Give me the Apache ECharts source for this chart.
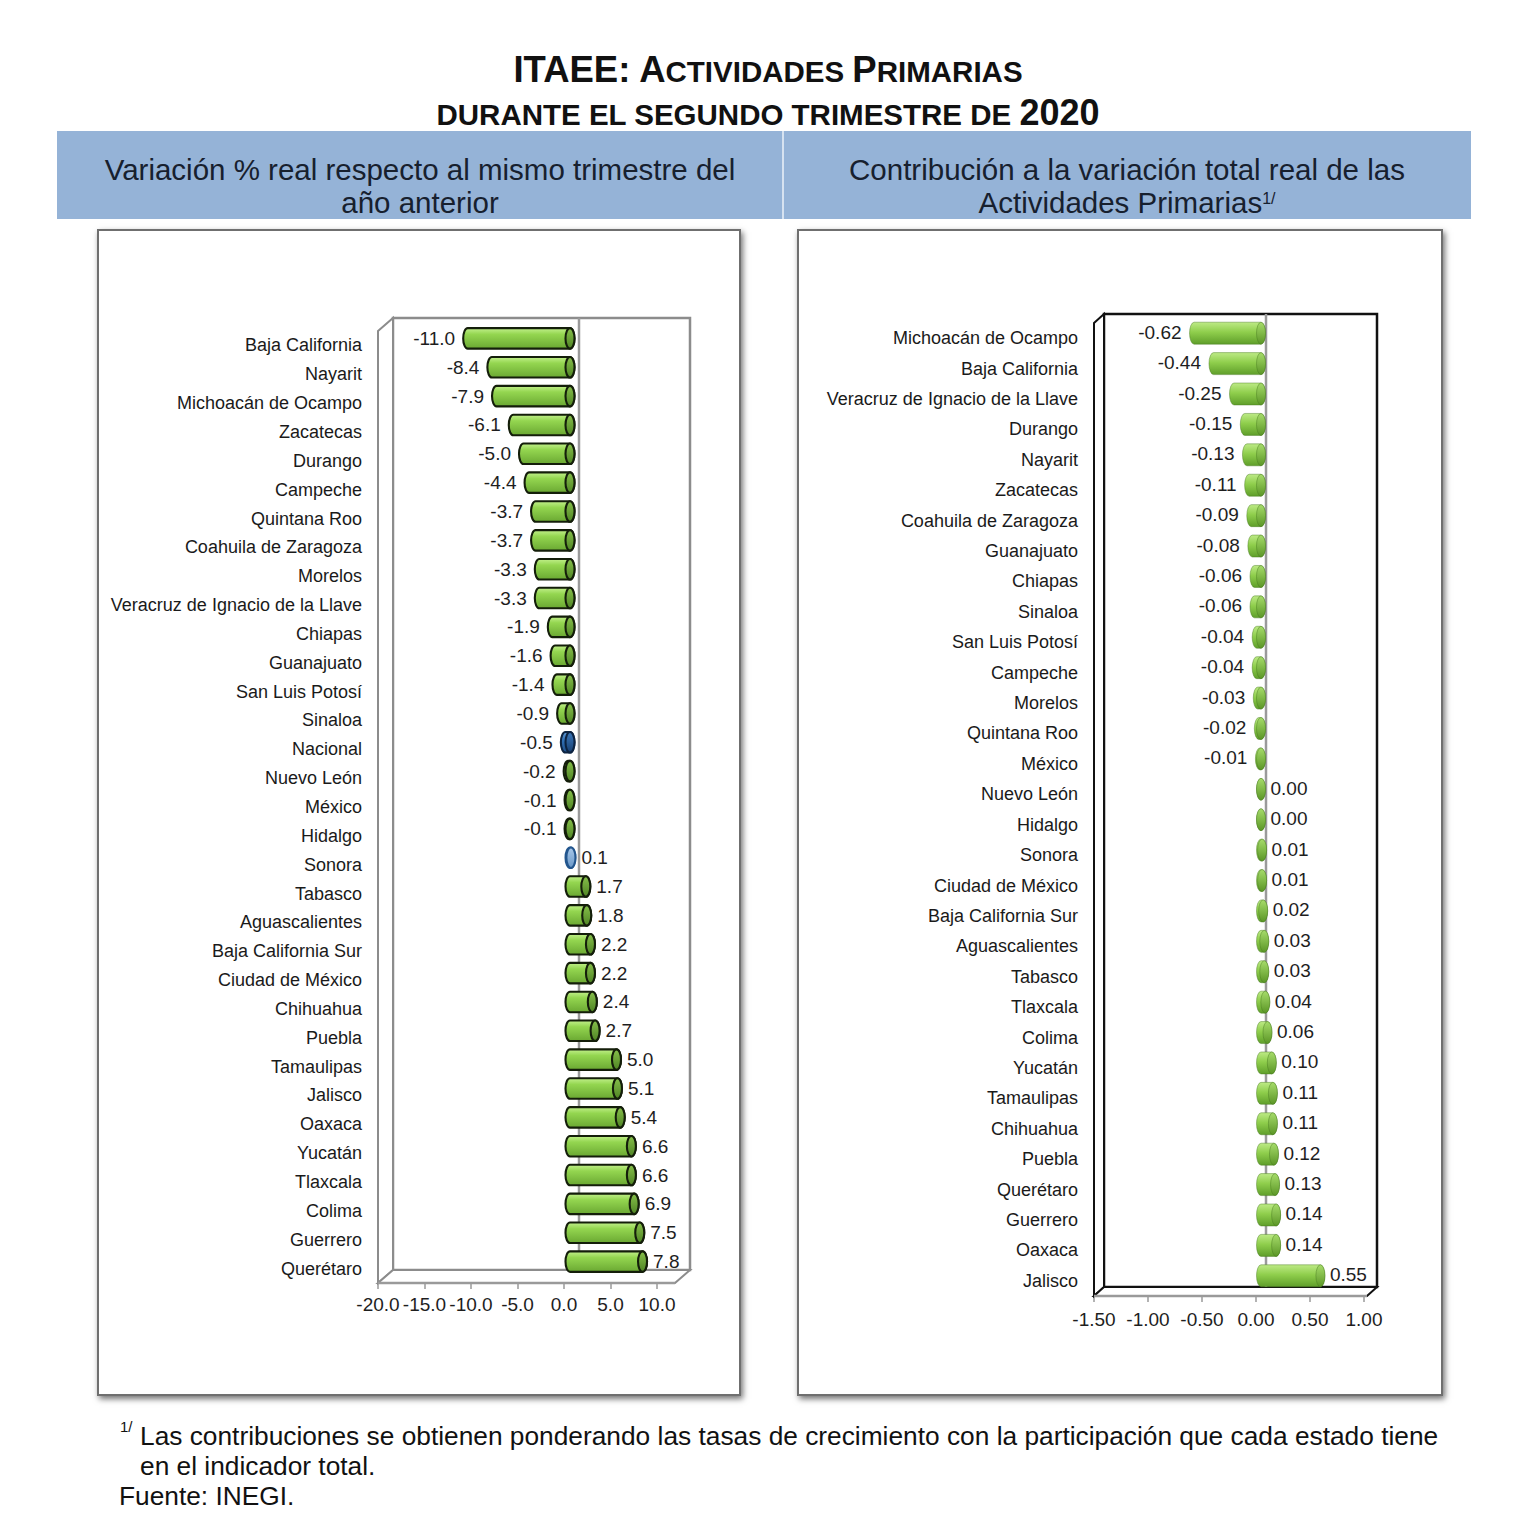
<!DOCTYPE html>
<html>
<head>
<meta charset="utf-8">
<script src="https://cdn.jsdelivr.net/npm/echarts@6/dist/echarts.min.js"></script>
<style>
  html, body { margin: 0; padding: 0; background: #fff; }
  #page { position: relative; width: 1536px; height: 1529px; font-family: "Liberation Sans", Arial, sans-serif; color: #111; overflow: hidden; }
  .abs { position: absolute; }
  .t1 { left: 0; width: 1536px; top: 48px; text-align: center; font-weight: bold; line-height: 44px; white-space: nowrap; }
  .t2 { left: 0; width: 1536px; top: 91px; text-align: center; font-weight: bold; line-height: 44px; white-space: nowrap; }
  .band { left: 57px; top: 131px; width: 1414px; height: 88px; background: #95b3d7; }
  .divider { left: 782px; top: 131px; width: 2px; height: 88px; background: #d6e2f0; }
  .hdr { top: 153px; text-align: center; font-size: 29.5px; line-height: 33px; color: #17202e; white-space: nowrap; }
  .panel { top: 229px; height: 1167px; box-sizing: border-box; border: 2px solid #6f6f6f; background: #fff; box-shadow: 2px 3px 6px rgba(0,0,0,0.55); }
  .foot { font-size: 26.3px; line-height: 30px; color: #111; white-space: nowrap; }
  #chart { position: absolute; left: 0; top: 0; width: 1536px; height: 1529px; z-index: 5; }
</style>
</head>
<body>
<div id="page">
  <div class="abs t1"><span style="font-size:36.5px">ITAEE: A</span><span style="font-size:29.5px">CTIVIDADES </span><span style="font-size:36.5px">P</span><span style="font-size:29.5px">RIMARIAS</span></div>
  <div class="abs t2"><span style="font-size:29.5px">DURANTE EL SEGUNDO TRIMESTRE DE </span><span style="font-size:36px">2020</span></div>

  <div class="abs band"></div>
  <div class="abs divider"></div>
  <div class="abs hdr" style="left:57px;width:726px;">Variación % real respecto al mismo trimestre del<br>año anterior</div>
  <div class="abs hdr" style="left:783px;width:688px;">Contribución a la variación total real de las<br>Actividades Primarias<sup style="font-size:16px;vertical-align:top;position:relative;top:-4px;">1/</sup></div>

  <div class="abs panel" style="left:97px;width:644px;"></div>
  <div class="abs panel" style="left:797px;width:646px;"></div>

  <div class="abs foot" style="left:120px;top:1418px;font-size:15px;line-height:18px;">1/</div>
  <div class="abs foot" style="left:140px;top:1421px;">Las contribuciones se obtienen ponderando las tasas de crecimiento con la participación que cada estado tiene</div>
  <div class="abs foot" style="left:140px;top:1451px;">en el indicador total.</div>
  <div class="abs foot" style="left:119px;top:1481px;">Fuente: INEGI.</div>

  <div id="chart"></div>
</div>
<script>
// ---------------- DATA ----------------
const leftCategories = ['Baja California','Nayarit','Michoacán de Ocampo','Zacatecas','Durango','Campeche','Quintana Roo','Coahuila de Zaragoza','Morelos','Veracruz de Ignacio de la Llave','Chiapas','Guanajuato','San Luis Potosí','Sinaloa','Nacional','Nuevo León','México','Hidalgo','Sonora','Tabasco','Aguascalientes','Baja California Sur','Ciudad de México','Chihuahua','Puebla','Tamaulipas','Jalisco','Oaxaca','Yucatán','Tlaxcala','Colima','Guerrero','Querétaro'];
const leftValues = [-11.0,-8.4,-7.9,-6.1,-5.0,-4.4,-3.7,-3.7,-3.3,-3.3,-1.9,-1.6,-1.4,-0.9,-0.5,-0.2,-0.1,-0.1,0.1,1.7,1.8,2.2,2.2,2.4,2.7,5.0,5.1,5.4,6.6,6.6,6.9,7.5,7.8];

const rightCategories = ['Michoacán de Ocampo','Baja California','Veracruz de Ignacio de la Llave','Durango','Nayarit','Zacatecas','Coahuila de Zaragoza','Guanajuato','Chiapas','Sinaloa','San Luis Potosí','Campeche','Morelos','Quintana Roo','México','Nuevo León','Hidalgo','Sonora','Ciudad de México','Baja California Sur','Aguascalientes','Tabasco','Tlaxcala','Colima','Yucatán','Tamaulipas','Chihuahua','Puebla','Querétaro','Guerrero','Oaxaca','Jalisco'];
const rightValues = [-0.62,-0.44,-0.25,-0.15,-0.13,-0.11,-0.09,-0.08,-0.06,-0.06,-0.04,-0.04,-0.03,-0.02,-0.01,0.00,0.00,0.01,0.01,0.02,0.03,0.03,0.04,0.06,0.10,0.11,0.11,0.12,0.13,0.14,0.14,0.55];

const leftAxis = { min: -20, max: 10, interval: 5, decimals: 1 };
const rightAxis = { min: -1.5, max: 1.0, interval: 0.5, decimals: 2 };
const blueCategories = ['Nacional'];
const lightBlueCategories = ['Sonora'];

// ---------------- STYLE ----------------
const FONT = '"Liberation Sans", Arial, sans-serif';
const grad = (stops) => new echarts.graphic.LinearGradient(0, 0, 0, 1, stops.map((c) => ({ offset: c[0], color: c[1] })));

const styles = {
  leftGreen: {
    body: () => grad([[0, '#c2f08c'], [0.3, '#94d650'], [1, '#6aa832']]),
    cap: () => grad([[0, '#86c04a'], [1, '#4f8424']]),
    stroke: '#141e0a', lw: 2.1
  },
  leftBlue: {
    body: () => grad([[0, '#5f9ad6'], [0.4, '#2f6fb4'], [1, '#1d4e88']]),
    cap: () => grad([[0, '#3b78bc'], [1, '#173f70']]),
    stroke: '#0c2341', lw: 2.1
  },
  leftLightBlue: {
    body: () => grad([[0, '#c4dcf2'], [1, '#7aa8d8']]),
    cap: () => grad([[0, '#a8c8ea'], [1, '#6a98c8']]),
    stroke: '#23568e', lw: 2
  },
  rightGreen: {
    body: () => grad([[0, '#bdea86'], [0.45, '#8fce4c'], [1, '#5f9e2a']]),
    cap: () => grad([[0, '#a6dc6a'], [1, '#5b9626']]),
    stroke: 'rgba(70,120,30,0.55)', lw: 0.8
  }
};

function makeRender(cfg) {
  return function (params, api) {
    const v = api.value(0);
    const idx = api.value(1);
    const p0 = api.coord([0, idx]);
    const p1 = api.coord([v, idx]);
    const yc = p0[1] + cfg.dy;
    const xa = Math.min(p0[0], p1[0]) + cfg.dx;
    const xb = Math.max(p0[0], p1[0]) + cfg.dx;
    const ry = cfg.h / 2, rx = cfg.rx;
    const top = yc - ry, bot = yc + ry;
    const st = cfg.styleFor(params.dataIndex);
    const body = `M${xa} ${top} L${xb} ${top} A${rx} ${ry} 0 0 1 ${xb} ${bot} L${xa} ${bot} A${rx} ${ry} 0 0 1 ${xa} ${top} Z`;
    const cap = `M${xb} ${top} A${rx} ${ry} 0 0 1 ${xb} ${bot} A${rx} ${ry} 0 0 1 ${xb} ${top} Z`;
    const neg = v < 0;
    const txt = v.toFixed(cfg.decimals);
    return {
      type: 'group',
      children: [
        { type: 'path', shape: { pathData: body }, style: { fill: st.body(), stroke: st.stroke, lineWidth: st.lw } },
        { type: 'path', shape: { pathData: cap }, style: { fill: st.cap(), stroke: st.stroke, lineWidth: st.lw } },
        {
          type: 'text',
          style: {
            text: txt,
            x: neg ? xa - rx - cfg.gapNeg : xb + rx + cfg.gapPos,
            y: yc + cfg.labelDy,
            align: neg ? 'right' : 'left',
            verticalAlign: 'middle',
            fill: '#1e1e1e',
            fontSize: 19,
            fontFamily: FONT
          }
        }
      ]
    };
  };
}

const G0 = { left: 378, top: 331, width: 279, height: 952 };
const G1 = { left: 1094, top: 323, width: 270, height: 973 };

const chart = echarts.init(document.getElementById('chart'), null, { renderer: 'svg' });

const catAxisLabel = { show: true, interval: 0, fontSize: 18, color: '#1a1a1a', fontFamily: FONT, margin: 16 };

const option = {
  backgroundColor: 'transparent',
  animation: false,
  grid: [
    Object.assign({ outerBoundsMode: 'none', containLabel: false }, G0),
    Object.assign({ outerBoundsMode: 'none', containLabel: false }, G1)
  ],
  xAxis: [
    {
      type: 'value', gridIndex: 0, min: leftAxis.min, max: leftAxis.max, interval: leftAxis.interval,
      axisLine: { show: false },
      axisTick: { show: true, length: 6, lineStyle: { color: '#9a9a9a', width: 1.5 } },
      splitLine: { show: false },
      axisLabel: { fontSize: 19, color: '#1e1e1e', fontFamily: FONT, margin: 12, formatter: v => v.toFixed(leftAxis.decimals) }
    },
    {
      type: 'value', gridIndex: 1, min: rightAxis.min, max: rightAxis.max, interval: rightAxis.interval,
      axisLine: { show: false },
      axisTick: { show: true, length: 6, lineStyle: { color: '#9a9a9a', width: 1.5 } },
      splitLine: { show: false },
      axisLabel: { fontSize: 19, color: '#1e1e1e', fontFamily: FONT, margin: 14, formatter: v => v.toFixed(rightAxis.decimals) }
    }
  ],
  yAxis: [
    {
      type: 'category', gridIndex: 0, data: leftCategories, inverse: true, position: 'left',
      axisLine: { show: false, onZero: false }, axisTick: { show: false }, splitLine: { show: false },
      axisLabel: catAxisLabel
    },
    {
      type: 'category', gridIndex: 0, data: leftCategories, inverse: true, position: 'left',
      axisLine: { show: true, onZero: true, lineStyle: { color: 'rgba(0,0,0,0)' } },
      axisTick: { show: true, length: 6, lineStyle: { color: '#9a9a9a', width: 1.5 } },
      axisLabel: { show: false }, splitLine: { show: false }
    },
    {
      type: 'category', gridIndex: 1, data: rightCategories, inverse: true, position: 'left',
      axisLine: { show: false, onZero: false }, axisTick: { show: false }, splitLine: { show: false },
      axisLabel: catAxisLabel
    },
    {
      type: 'category', gridIndex: 1, data: rightCategories, inverse: true, position: 'left',
      axisLine: { show: true, onZero: true, lineStyle: { color: 'rgba(0,0,0,0)' } },
      axisTick: { show: true, length: 6, lineStyle: { color: '#9a9a9a', width: 1.5 } },
      axisLabel: { show: false }, splitLine: { show: false }
    }
  ],
  series: [
    {
      type: 'custom', name: 'Variación %', xAxisIndex: 0, yAxisIndex: 0, z: 10,
      data: leftValues.map((v, i) => [v, i]),
      renderItem: makeRender({
        dx: 6, dy: -7, h: 20.5, rx: 4.5, decimals: 1, gapNeg: 8, gapPos: 6, labelDy: 0,
        styleFor: i => blueCategories.includes(leftCategories[i]) ? styles.leftBlue
          : (lightBlueCategories.includes(leftCategories[i]) ? styles.leftLightBlue : styles.leftGreen)
      })
    },
    {
      type: 'custom', name: 'Contribución', xAxisIndex: 1, yAxisIndex: 2, z: 10,
      data: rightValues.map((v, i) => [v, i]),
      renderItem: makeRender({
        dx: 5, dy: -5, h: 22, rx: 4.5, decimals: 2, gapNeg: 8, gapPos: 5, labelDy: -1,
        styleFor: i => styles.rightGreen
      })
    }
  ]
};

chart.setOption(option);

// 3D frame (walls, floor) and zero lines on the back wall
const zeroL = chart.convertToPixel({ xAxisIndex: 0 }, 0);
const zeroR = chart.convertToPixel({ xAxisIndex: 1 }, 0);

const dL = { x: 15, y: -13 };
const dR = { x: 10, y: -9 };
const fL = { x0: G0.left, y0: G0.top, x1: 675, y1: G0.top + G0.height };
const fR = { x0: G1.left, y0: G1.top, x1: G1.left + G1.width + 3, y1: G1.top + G1.height };

const grayS = { stroke: '#8c8c8c', lineWidth: 2.5, fill: '#fff' };
const blackS = { stroke: '#111', lineWidth: 2.5, fill: '#fff' };

function frame(f, d, wallStyle, floorFrontColor, zeroX) {
  const bx0 = f.x0 + d.x, by0 = f.y0 + d.y, bx1 = f.x1 + d.x, by1 = f.y1 + d.y;
  return [
    { type: 'rect', z: 1, shape: { x: bx0, y: by0, width: bx1 - bx0, height: by1 - by0 }, style: Object.assign({}, wallStyle) },
    { type: 'polygon', z: 1, shape: { points: [[f.x0, f.y0], [bx0, by0], [bx0, by1], [f.x0, f.y1]] }, style: Object.assign({}, wallStyle, { lineWidth: 2 }) },
    { type: 'polygon', z: 1, shape: { points: [[f.x0, f.y1], [bx0, by1], [bx1, by1], [f.x1, f.y1]] }, style: Object.assign({}, wallStyle, { lineWidth: 2 }) },
    { type: 'line', z: 2, shape: { x1: f.x0, y1: f.y1, x2: f.x1, y2: f.y1 }, style: { stroke: floorFrontColor, lineWidth: 2.5 } },
    { type: 'line', z: 2, shape: { x1: zeroX + d.x, y1: by0, x2: zeroX + d.x, y2: by1 }, style: { stroke: '#9a9a9a', lineWidth: 2.5 } }
  ];
}

chart.setOption({
  graphic: [].concat(
    frame(fL, dL, grayS, '#9a9a9a', zeroL),
    frame(fR, dR, blackS, '#9a9a9a', zeroR)
  )
});
</script>
</body>
</html>
